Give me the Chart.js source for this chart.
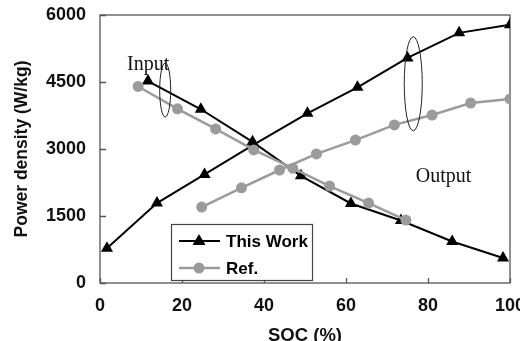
<!DOCTYPE html>
<html>
<head>
<meta charset="utf-8">
<script src="https://cdn.jsdelivr.net/npm/chart.js@4"></script>
<style>
  html, body { margin: 0; padding: 0; background: #fff; overflow: hidden; }
  #wrap { width: 520px; height: 341px; position: relative; }
</style>
</head>
<body>
<div id="wrap"><canvas id="c" width="520" height="341"></canvas></div>
<script>
// ---- data ----
const xTicks = [0, 20, 40, 60, 80, 100];
const yTicks = [0, 1500, 3000, 4500, 6000];

const thisWorkOutputSOC   = [1.7, 13.9, 25.5, 37.5, 50.6, 62.8, 75.0, 87.6, 100];
const thisWorkOutputPower = [780, 1790, 2430, 3100, 3800, 4380, 5040, 5600, 5780];

const thisWorkInputSOC    = [11.7, 24.6, 37.2, 49.0, 61.2, 73.4, 85.9, 98.3];
const thisWorkInputPower  = [4520, 3890, 3160, 2400, 1780, 1400, 930, 560];

const refInputSOC         = [9.3, 18.9, 28.2, 37.5, 47.0, 56.0, 65.5, 74.6];
const refInputPower       = [4400, 3900, 3450, 2980, 2570, 2170, 1790, 1410];

const refOutputSOC        = [24.8, 34.5, 43.8, 52.8, 62.3, 71.8, 81.0, 90.4, 100];
const refOutputPower      = [1700, 2130, 2530, 2890, 3200, 3540, 3760, 4030, 4120];

const legendLabels = ['This Work', 'Ref.'];
const notes = [
  { text: 'Input',  x: 6.6,  y: 4770 },
  { text: 'Output', x: 77.0, y: 2260 }
];
const ellipses = [
  { x: 15.9, y: 4320, rx: 5.5, ry: 27 },
  { x: 76.4, y: 4460, rx: 9,   ry: 47 }
];

const pts = (xs, ys) => xs.map((x, i) => ({ x: x, y: ys[i] }));
const BLACK = '#000000';
const GRAY = '#9b9b9b';
const SANS = '"Liberation Sans", Arial, sans-serif';
const tickFont = { family: SANS, weight: 'bold', size: 18 };

function blackSet(label, data) {
  return { label, data, showLine: true, borderColor: BLACK, backgroundColor: BLACK,
    borderWidth: 2, pointStyle: 'triangle', pointRadius: 7, pointBorderWidth: 0,
    pointBackgroundColor: BLACK, order: 2 };
}
function graySet(label, data) {
  return { label, data, showLine: true, borderColor: GRAY, backgroundColor: GRAY,
    borderWidth: 2.5, pointStyle: 'circle', pointRadius: 5.5, pointBorderWidth: 0,
    pointBackgroundColor: GRAY, order: 1 };
}

const decor = {
  id: 'decor',
  beforeDatasetsDraw(chart) {
    const { ctx, chartArea: a, scales } = chart;
    ctx.save();
    ctx.strokeStyle = '#555';
    ctx.lineWidth = 1.3;
    ctx.strokeRect(a.left, a.top, a.right - a.left, a.bottom - a.top);
    ctx.beginPath();
    yTicks.forEach(v => {
      const y = Math.round(scales.y.getPixelForValue(v)) + 0.5;
      ctx.moveTo(a.left, y); ctx.lineTo(a.left + 6, y);
    });
    xTicks.forEach(v => {
      const x = Math.round(scales.x.getPixelForValue(v)) + 0.5;
      ctx.moveTo(x, a.bottom); ctx.lineTo(x, a.bottom - 5);
    });
    ctx.stroke();
    ctx.restore();
  },
  afterDatasetsDraw(chart) {
    const { ctx, scales } = chart;
    ctx.save();
    ctx.strokeStyle = '#222';
    ctx.lineWidth = 1;
    ellipses.forEach(e => {
      ctx.beginPath();
      ctx.ellipse(scales.x.getPixelForValue(e.x), scales.y.getPixelForValue(e.y), e.rx, e.ry, 0, 0, Math.PI * 2);
      ctx.stroke();
    });
    ctx.fillStyle = '#111';
    ctx.font = '20px "Liberation Serif", "Times New Roman", serif';
    ctx.textBaseline = 'alphabetic';
    ctx.textAlign = 'left';
    notes.forEach(n => {
      ctx.fillText(n.text, scales.x.getPixelForValue(n.x), scales.y.getPixelForValue(n.y));
    });
    // legend box
    const lx = 171, ly = 224, lw = 141, lh = 56;
    ctx.fillStyle = '#fff';
    ctx.fillRect(lx, ly, lw, lh);
    ctx.strokeStyle = '#444';
    ctx.lineWidth = 1.2;
    ctx.strokeRect(lx + 0.5, ly + 0.5, lw, lh);
    const rows = [ly + 17, ly + 44];
    ctx.strokeStyle = BLACK; ctx.lineWidth = 2;
    ctx.beginPath(); ctx.moveTo(179, rows[0]); ctx.lineTo(220, rows[0]); ctx.stroke();
    ctx.fillStyle = BLACK;
    ctx.beginPath();
    ctx.moveTo(199, rows[0] - 7); ctx.lineTo(205.5, rows[0] + 4); ctx.lineTo(192.5, rows[0] + 4);
    ctx.closePath(); ctx.fill();
    ctx.strokeStyle = GRAY; ctx.lineWidth = 2.5;
    ctx.beginPath(); ctx.moveTo(179, rows[1]); ctx.lineTo(220, rows[1]); ctx.stroke();
    ctx.fillStyle = GRAY;
    ctx.beginPath(); ctx.arc(199, rows[1], 5.5, 0, Math.PI * 2); ctx.fill();
    ctx.fillStyle = BLACK;
    ctx.font = 'bold 17px ' + SANS;
    ctx.textBaseline = 'middle';
    ctx.fillText(legendLabels[0], 226, rows[0] + 1);
    ctx.fillText(legendLabels[1], 226, rows[1] + 1);
    ctx.restore();
  }
};

new Chart(document.getElementById('c'), {
  type: 'scatter',
  data: {
    datasets: [
      blackSet('This Work', pts(thisWorkOutputSOC, thisWorkOutputPower)),
      blackSet('This Work (input)', pts(thisWorkInputSOC, thisWorkInputPower)),
      graySet('Ref.', pts(refOutputSOC, refOutputPower)),
      graySet('Ref. (input)', pts(refInputSOC, refInputPower))
    ]
  },
  options: {
    responsive: false,
    animation: false,
    events: [],
    layout: { padding: { top: 15, right: 10, left: 0, bottom: 0 } },
    plugins: { legend: { display: false }, tooltip: { enabled: false } },
    scales: {
      x: {
        type: 'linear', min: 0, max: 100,
        afterBuildTicks: s => { s.ticks = xTicks.map(v => ({ value: v })); },
        afterFit: s => { s.height = 58; s.paddingLeft = 0; s.paddingRight = 0; },
        grid: { display: false, drawTicks: false },
        border: { display: false },
        ticks: { color: '#111', font: tickFont, padding: 12, maxRotation: 0, autoSkip: false,
          callback: v => String(v) },
        title: { display: true, text: 'SOC (%)', color: '#111',
          font: { family: SANS, weight: 'bold', size: 18.5, lineHeight: 1 },
          padding: { top: 0, bottom: -4 } }
      },
      y: {
        type: 'linear', min: 0, max: 6000,
        afterBuildTicks: s => { s.ticks = yTicks.map(v => ({ value: v })); },
        afterFit: s => { s.width = 100; s.paddingTop = 0; s.paddingBottom = 0; },
        grid: { display: false, drawTicks: false },
        border: { display: false },
        ticks: { color: '#111', font: tickFont, padding: 14, autoSkip: false,
          callback: v => String(v) },
        title: { display: true, text: 'Power density (W/kg)', color: '#111',
          font: { family: SANS, weight: 'bold', size: 17.5, lineHeight: 1 },
          padding: { top: 13, bottom: 0 } }
      }
    }
  },
  plugins: [decor]
});
</script>
</body>
</html>
